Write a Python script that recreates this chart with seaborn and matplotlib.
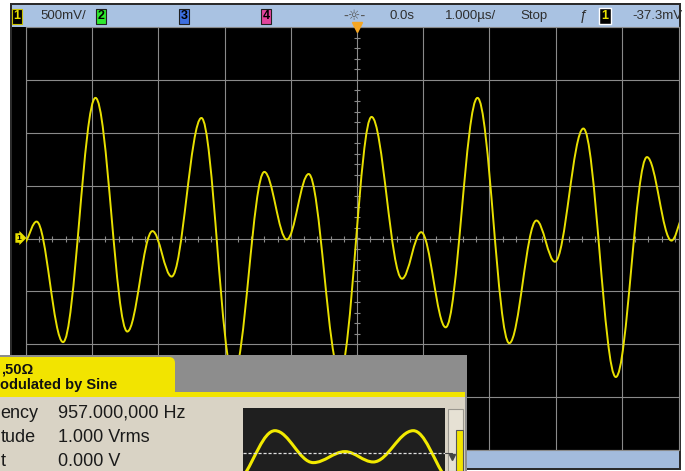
import matplotlib
matplotlib.use("Agg")
import matplotlib.pyplot as plt
import seaborn as sns
import numpy as np
from matplotlib.path import Path
from matplotlib.patches import PathPatch, Rectangle, FancyBboxPatch

# channel 1 trace: time (us) and level (V)
trace_t = [-5.00, -4.84, -4.44, -3.95, -3.47, -3.09, -2.80, -2.35, -1.87, -1.40,
           -1.06, -0.73, -0.26, 0.22, 0.68, 0.97, 1.34, 1.82, 2.30, 2.71,
           2.99, 3.42, 3.91, 4.38, 4.75, 4.91]
trace_v = [-0.03, 0.16, -0.98, 1.33, -0.88, 0.07, -0.36, 1.14, -1.30, 0.63,
           -0.01, 0.61, -1.27, 1.15, -0.38, 0.06, -0.84, 1.33, -0.99, 0.17,
           -0.22, 1.04, -1.31, 0.77, -0.02, 0.21]

# preview waveform in the generator panel (fraction of width, relative level)
preview_t = [0.0, 0.158, 0.348, 0.505, 0.645, 0.843, 1.0]
preview_v = [-1.1, 1.0, -0.45, 0.05, -0.42, 1.0, -1.1]

# status line of the scope
header_items = [("500mV/", 40), ("0.0s", 390), ("1.000µs/", 445), ("Stop", 520), ("-37.3mV", 632)]
channel_boxes = [("2", 97, "#2ee82e"), ("3", 180, "#3d6fe0"), ("4", 262, "#e2449c")]

# generator settings (only the visible part of the panel)
tab_lines = [",50Ω", "odulated by Sine"]
setting_names = ["ency", "tude", "t"]
setting_values = ["957.000,000 Hz", "1.000 Vrms", "0.000 V"]

sns.set_theme(style="dark")
plt.rcParams["font.family"] = ["Liberation Sans", "DejaVu Sans"]

W, H = 685, 471
YEL = "#e8e000"
fig = plt.figure(figsize=(W / 100, H / 100), dpi=100)
fig.patch.set_facecolor("white")


def px_axes(x0, y0, x1, y1, z):
    return fig.add_axes([x0 / W, 1 - y1 / H, (x1 - x0) / W, (y1 - y0) / H], zorder=z)


def full_layer(z):
    a = px_axes(0, 0, W, H, z)
    a.set_xlim(0, W)
    a.set_ylim(H, 0)
    a.axis("off")
    a.patch.set_alpha(0)
    return a


def box(a, x0, y0, x1, y1, color, **kw):
    a.add_patch(Rectangle((x0, y0), x1 - x0, y1 - y0, facecolor=color,
                          edgecolor=kw.pop("ec", "none"), **kw))


def smooth_path(xs, ys, k=0.36):
    verts = [(xs[0], ys[0])]
    codes = [Path.MOVETO]
    n = len(xs)
    for i in range(n - 1):
        x0, y0, x1, y1 = xs[i], ys[i], xs[i + 1], ys[i + 1]
        dx, dy = x1 - x0, y1 - y0
        c1 = (x0 + k * dx, y0) if i > 0 else (x0 + k * dx, y0 + k * dy)
        c2 = (x1 - k * dx, y1) if i < n - 2 else (x1 - k * dx, y1 - k * dy)
        verts += [c1, c2, (x1, y1)]
        codes += [Path.CURVE4] * 3
    return Path(verts, codes)


# ---- scope frame and status line
bg = full_layer(0)
box(bg, 10, 3, 681, 470, "#2b2b2b")
box(bg, 12, 5, 679, 27, "#a9c2e2")
box(bg, 12, 27, 679, 450, "black")
box(bg, 12, 450, 679, 468, "#a3bbdc")

bg.text(17, 16, "1", ha="center", va="center", fontsize=9, fontweight="bold", color=YEL,
        bbox=dict(boxstyle="square,pad=0.12", fc="black", ec="#c8c000", lw=0.8))
for label, x in header_items:
    bg.text(x, 16, label, ha="left", va="center", fontsize=9.5, color="#2e2e2e")
for label, x, c in channel_boxes:
    bg.text(x + 4, 16, label, ha="center", va="center", fontsize=9, fontweight="bold",
            color="black", bbox=dict(boxstyle="square,pad=0.12", fc=c, ec="#202020", lw=0.8))
bg.text(355, 16, "-☼-", ha="center", va="center", fontsize=10, color="#555555",
        family="DejaVu Sans")
bg.text(584, 16, "ƒ", ha="center", va="center", fontsize=10, color="#2e2e2e")
bg.text(605, 16, "1", ha="center", va="center", fontsize=9, fontweight="bold", color=YEL,
        bbox=dict(boxstyle="square,pad=0.18", fc="black", ec="white", lw=1))
bg.text(19, 238, "1", ha="center", va="center", fontsize=6, fontweight="bold", color="black",
        bbox=dict(boxstyle="rarrow,pad=0.15", fc=YEL, ec="none"))

# ---- graticule and trace
ax = px_axes(26, 27, 679, 450, 1)
ax.set_facecolor("black")
ax.set_xlim(-5.0, (679 - 357) / 66.2)
ax.set_ylim(-2.0, 2.0)
ax.set_xticks(np.arange(-5, 5, 1))
ax.set_yticks(np.arange(-2, 2.01, 0.5))
ax.grid(True, color="#8a8a8a", lw=0.8)
ax.tick_params(length=0, labelbottom=False, labelleft=False)
for s in ax.spines.values():
    s.set_visible(True)
    s.set_color("#8a8a8a")
    s.set_linewidth(0.8)
minor_t = np.arange(-5, 5, 0.2)
minor_v = np.arange(-2, 2.01, 0.1)
ax.plot(minor_t, np.zeros_like(minor_t), ls="none", marker="|", ms=4, mew=0.8, color="#8a8a8a")
ax.plot(np.zeros_like(minor_v), minor_v, ls="none", marker="_", ms=4, mew=0.8, color="#8a8a8a")
ax.plot(0, 2.0, marker="v", ms=7, color="#f5a623", clip_on=False, zorder=5)
ax.add_patch(PathPatch(smooth_path(trace_t, trace_v), fill=False, edgecolor=YEL, lw=1.4,
                       capstyle="round", joinstyle="round", zorder=4))

# ---- function generator panel
pn = full_layer(2)
box(pn, 0, 355, 467, 471, "#8d8d8d")
box(pn, 0, 397, 465, 471, "#d9d3c5")
box(pn, 0, 392, 465, 397, "#f2e400")
pn.add_patch(FancyBboxPatch((-12, 357), 187, 40, boxstyle="round,pad=0,rounding_size=6",
                            fc="#f2e400", ec="none"))
pn.text(1, 370, tab_lines[0], ha="left", va="center", fontsize=10.5, fontweight="bold",
        color="#111111")
pn.text(0.5, 384.5, tab_lines[1], ha="left", va="center", fontsize=10.5,
        fontweight="bold", color="#111111")
for name, value, y, va in zip(setting_names, setting_values, [417.5, 442.5, 470.5],
                              ["baseline", "baseline", "bottom"]):
    pn.text(0.5, y, name, ha="left", va=va, fontsize=13, color="#1a1a1a")
    pn.text(58, y, value, ha="left", va=va, fontsize=13, color="#1a1a1a")
box(pn, 448, 409, 463, 471, "#e6e1d4", ec="#9a978f", lw=0.8)
box(pn, 456, 430, 463, 471, "#f2e400", ec="#555555", lw=0.8)

pv = px_axes(243, 408, 445, 471, 3)
pv.set_facecolor("#1f1f1f")
pv.set_xlim(0, 1)
pv.set_ylim(-0.83, 2.03)
pv.set_xticks([])
pv.set_yticks([])
for s in pv.spines.values():
    s.set_visible(False)
pv.axhline(0, color="#e0e0e0", lw=0.9, ls=(0, (2.5, 1.5)))
pv.add_patch(PathPatch(smooth_path(preview_t, preview_v), fill=False, edgecolor="#f2ea00",
                       lw=2.2, capstyle="round"))
pn.plot([445, 452], [452.7, 452.7], color="#444444", lw=0.8)
pn.plot(452, 457, marker="v", ms=4, color="#444444")

fig.savefig("out.png", dpi=100, facecolor=fig.get_facecolor())
